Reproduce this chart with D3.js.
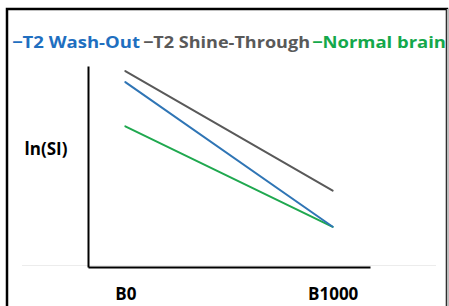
<!DOCTYPE html>
<html>
  <head>
    <meta charset="utf-8">
    <title>ln(SI) vs b-value</title>
    <style>
      body{margin:0;background-color:#fff;}
      text{font-family:"Open Sans",sans-serif;font-weight:700;}
    </style>
  </head>
  <body>
<svg width="449" height="306"></svg>
<script src="https://cdn.jsdelivr.net/npm/d3@7"></script>
<script>

// data
var categories = ["B0", "B1000"];
var seriesNames = ["T2 Wash-Out", "T2 Shine-Through", "Normal brain"];
var washOut = [9.2, 2.0];
var shineThrough = [9.75, 3.8];
var normalBrain = [7.0, 2.0];

var colors = ["#2f75b5", "#595959", "#1fa84f"];
var textColors = ["#1f6fc0", "#595959", "#14a84b"];
var series = [washOut, shineThrough, normalBrain];

var svg = d3.select("svg");

// outer frame
svg.append("rect")
    .attr("x", 7).attr("y", 9)
    .attr("width", 440).attr("height", 310)
    .attr("fill", "#fff")
    .attr("stroke", "#000")
    .attr("stroke-width", 2.5);
svg.append("line")
    .attr("x1", 447.5).attr("x2", 447.5).attr("y1", 9).attr("y2", 306)
    .attr("stroke", "#bbb").attr("stroke-width", 1.5);

var x = d3.scalePoint()
    .domain(categories)
    .range([88, 370])
    .padding(0.18);

var y = d3.scaleLinear()
    .domain([0, 10])
    .range([267, 66]);

// faint baseline grid
svg.append("line")
    .attr("x1", 22).attr("x2", 436)
    .attr("y1", 265.5).attr("y2", 265.5)
    .attr("stroke", "#ececec");

svg.append("g")
    .attr("transform", "translate(0,267)")
    .call(d3.axisBottom(x).tickSize(0).tickSizeOuter(0).tickPadding(21))
    .call(function(g) {
      g.select(".domain").attr("stroke", "#000").attr("stroke-width", 2);
      g.selectAll("text")
        .attr("fill", "#000")
        .style("font-family", "'Open Sans',sans-serif")
        .style("font-weight", 700)
        .style("font-size", "17px");
    });

svg.append("g")
    .attr("transform", "translate(88,0)")
    .call(d3.axisLeft(y).ticks(0).tickSize(0).tickSizeOuter(0))
    .call(function(g) {
      g.select(".domain").attr("stroke", "#000").attr("stroke-width", 2);
    });

svg.append("text")
    .attr("x", 46)
    .attr("y", 155)
    .attr("text-anchor", "middle")
    .attr("font-size", "17px")
    .attr("fill", "#000")
    .text("ln(SI)");

var line = d3.line()
    .x(function(d, i) { return x(categories[i]); })
    .y(function(d) { return y(d); });

// draw gray first, then green, then blue on top
[1, 2, 0].forEach(function(k) {
  svg.append("path")
      .datum(series[k])
      .attr("fill", "none")
      .attr("stroke", colors[k])
      .attr("stroke-width", 2)
      .attr("stroke-linecap", "round")
      .attr("d", line);
});

// legend
var legendX = [12, 143, 312];
var legendW = [128, 167, 134];
seriesNames.forEach(function(name, i) {
  svg.append("text")
      .attr("x", legendX[i])
      .attr("y", 48)
      .attr("font-size", "16px")
      .attr("fill", textColors[i])
      .attr("textLength", legendW[i])
      .attr("lengthAdjust", "spacingAndGlyphs")
      .text("\u2212" + name);
});

</script>
  </body>
</html>
